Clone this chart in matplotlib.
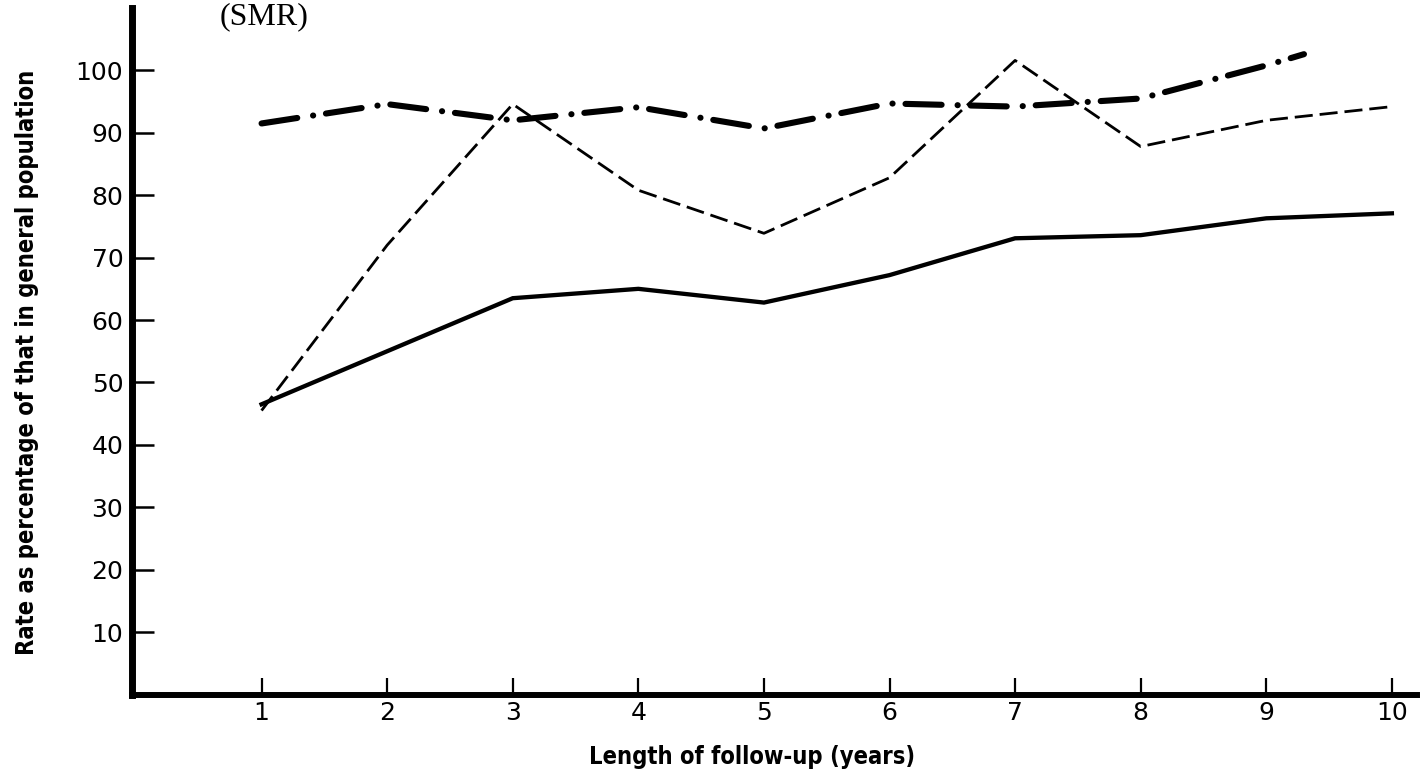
import matplotlib
matplotlib.use("Agg")
import matplotlib.pyplot as plt

plt.rcParams['lines.scale_dashes'] = False

# ---- data ----
years = [1, 2, 3, 4, 5, 6, 7, 8, 9, 10]
solid_vals = [46.5, 55.0, 63.5, 65.0, 62.8, 67.2, 73.1, 73.6, 76.3, 77.1]
dashed_vals = [45.5, 72.0, 94.6, 80.8, 73.9, 82.8, 101.6, 87.8, 92.0, 94.2]
dashdot_years = [1, 2, 3, 4, 5, 6, 7, 8, 9, 9.3]
dashdot_vals = [91.5, 94.6, 92.0, 94.1, 90.7, 94.7, 94.2, 95.5, 100.8, 102.6]

ytick_vals = [10, 20, 30, 40, 50, 60, 70, 80, 90, 100]
ytick_labels = [str(v) for v in ytick_vals]
xtick_vals = years
xtick_labels = [str(v) for v in xtick_vals]

xlabel = "Length of follow-up (years)"
ylabel = "Rate as percentage of that in general population"
top_text = "(SMR)"

# ---- figure ----
W, H = 1425, 772
fig = plt.figure(figsize=(W / 100, H / 100), dpi=100)
left, right = 131.7 / W, 1417 / W
bottom, top = 1 - 694.5 / H, 1 - 8 / H
ax = fig.add_axes([left, bottom, right - left, top - bottom])

ax.plot(years, solid_vals, color='black', lw=3.1, solid_joinstyle='miter')
ax.plot(years, dashed_vals, color='black', lw=2.0,
        linestyle=(0, (13, 5)), dash_capstyle='butt')
ax.plot(dashdot_years, dashdot_vals, color='black', lw=4.4,
        linestyle=(0, (26, 11.5, 0.1, 9.3)), dash_capstyle='round')

ax.set_xlim(-0.034, 10.2)
ax.set_ylim(0, 110)

for s in ('top', 'right'):
    ax.spines[s].set_visible(False)
ax.spines['left'].set_linewidth(5)
ax.spines['bottom'].set_linewidth(4.3)
ax.spines['left'].set_capstyle('projecting')

ax.set_yticks(ytick_vals)
ax.set_yticklabels(ytick_labels)
ax.set_xticks(xtick_vals)
ax.set_xticklabels(xtick_labels)

ax.tick_params(axis='y', direction='in', length=15.5, width=1.8, pad=6)
ax.tick_params(axis='x', direction='in', length=12.5, width=1.6, pad=5)
for lab in ax.get_xticklabels() + ax.get_yticklabels():
    lab.set_fontfamily('DejaVu Sans')
    lab.set_fontsize(18)

lab_kw = dict(family=['Liberation Sans Narrow', 'DejaVu Sans'],
              fontstretch='condensed', fontweight='heavy')
ax.set_xlabel(xlabel, fontsize=17, **lab_kw)
ax.xaxis.set_label_coords((752 - 131.7) / (1417 - 131.7), -(757 - 694.5) / (694.5 - 8))
ax.xaxis.label.set_va('center')
ax.set_ylabel(ylabel, fontsize=17, **lab_kw)
ax.yaxis.set_label_coords(-(131.7 - 27) / (1417 - 131.7), (694.5 - 362) / (694.5 - 8))
ax.yaxis.label.set_va('center')

fig.text(220 / W, 1 - 24 / H, top_text, family='Liberation Serif', fontsize=23,
         ha='left', va='baseline')

fig.savefig("out.png", dpi=100, facecolor='white')
